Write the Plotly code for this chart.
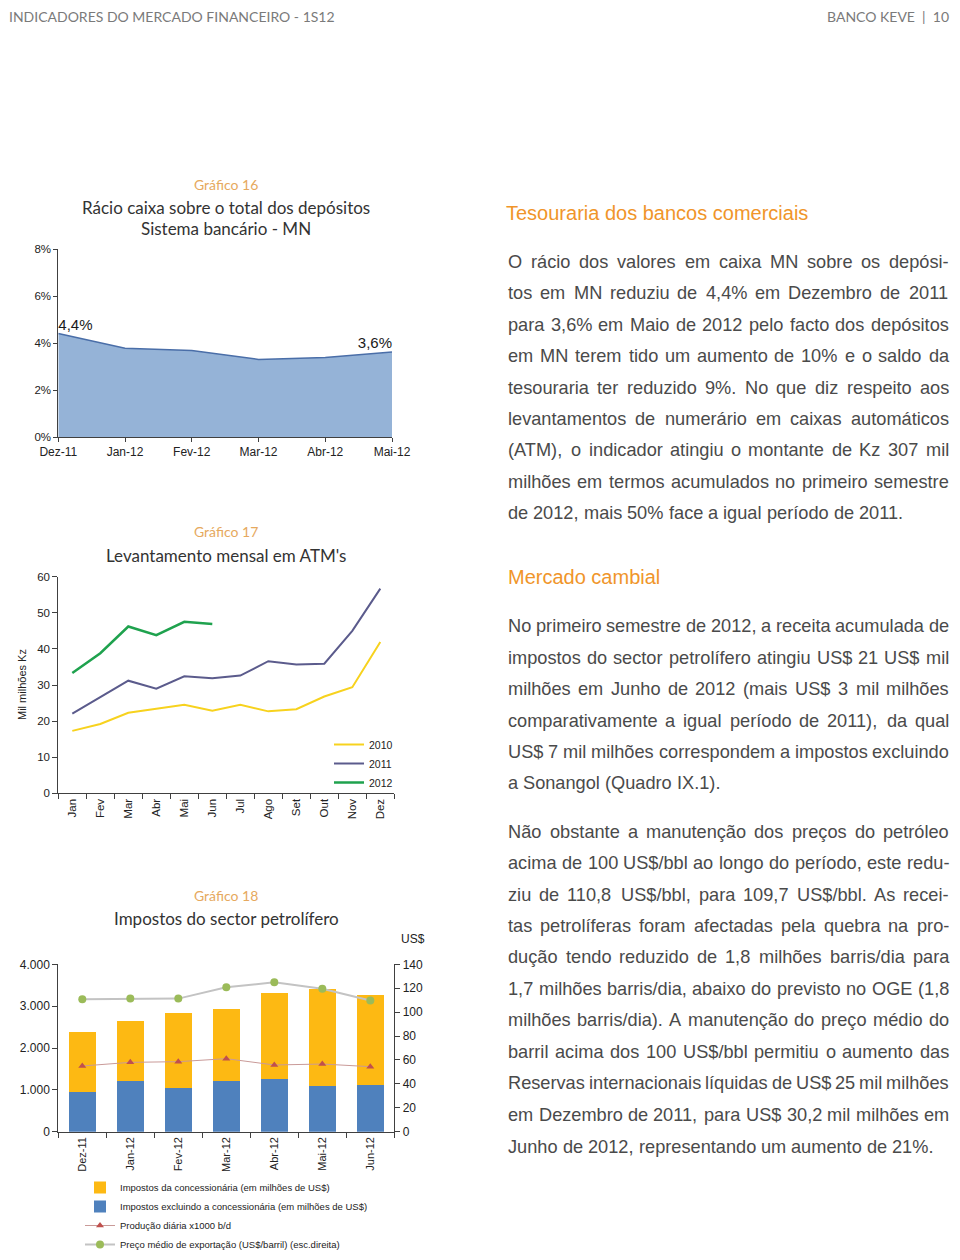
import plotly.graph_objects as go

# The page body adds an 8px margin on every side, so the figure is drawn 16px
# smaller than the window and all reference pixel positions are shifted by 8px.
OFF = 8
W, H = 960 - 2 * OFF, 1260 - 2 * OFF
def px(x): return (x - OFF) / W
def py(y): return 1 - (y - OFF) / H

# ---------------- DATA ----------------
# Gráfico 16
ratio_months = ["Dez-11", "Jan-12", "Fev-12", "Mar-12", "Abr-12", "Mai-12"]
ratio_values = [4.4, 3.78, 3.68, 3.30, 3.38, 3.62]
ratio_labels = ["4,4%", "", "", "", "", "3,6%"]
ratio_ticks = [0, 2, 4, 6, 8]
ratio_ticktext = ["0%", "2%", "4%", "6%", "8%"]

# Gráfico 17
atm_months = ["Jan", "Fev", "Mar", "Abr", "Mai", "Jun", "Jul", "Ago", "Set", "Out", "Nov", "Dez"]
atm_2010 = [17.3, 19.2, 22.3, 23.4, 24.5, 22.9, 24.5, 22.7, 23.3, 26.8, 29.4, 41.9]
atm_2011 = [22.1, 26.6, 31.2, 29.0, 32.4, 31.9, 32.6, 36.6, 35.7, 35.9, 45.0, 56.7]
atm_2012 = [33.3, 38.8, 46.2, 43.8, 47.5, 46.9]

# Gráfico 18
tax_months = ["Dez-11", "Jan-12", "Fev-12", "Mar-12", "Abr-12", "Mai-12", "Jun-12"]
tax_concession = [1435, 1434, 1793, 1713, 2056, 2334, 2151]
tax_other = [940, 1219, 1044, 1219, 1259, 1084, 1108]
production = [1570, 1657, 1673, 1745, 1594, 1617, 1554]
export_price = [110.8, 111.3, 111.3, 120.8, 124.9, 119.6, 109.7]

# ---------------- STYLE ----------------
AX = "#404040"
TICKFONT = dict(family="Liberation Sans", size=11.5, color="#222222")
TITLE_FONT = "Lato"
GRAF_COLOR = "#e6a95e"
HEAD_COLOR = "#f0952a"
BODY_COLOR = "#4a4a4a"

fig = go.Figure()

# Chart 16 - area
fig.add_trace(go.Scatter(
    x=ratio_months, y=ratio_values, mode="lines+text", fill="tozeroy",
    fillcolor="#95b3d7", line=dict(color="#4a6ea8", width=1.5),
    text=ratio_labels,
    textposition=["top right", "top center", "top center", "top center", "top center", "top left"],
    textfont=dict(family="Liberation Sans", size=15, color="#1a1a1a"),
    xaxis="x", yaxis="y", showlegend=False, cliponaxis=False, hoverinfo="skip"))

# Chart 17 - lines
for name, vals, col, wd in [("2010", atm_2010, "#f7d21e", 2),
                            ("2011", atm_2011, "#5b5b8c", 2),
                            ("2012", atm_2012, "#1fa24e", 2.5)]:
    fig.add_trace(go.Scatter(
        x=atm_months[:len(vals)], y=vals, mode="lines", name=name,
        line=dict(color=col, width=wd), xaxis="x2", yaxis="y2", legend="legend"))

# Chart 18 - stacked bars + lines
fig.add_trace(go.Bar(
    x=tax_months, y=tax_other, name="Impostos excluindo a concessionária (em milhões de US$)",
    marker=dict(color="#4f81bd", line=dict(width=0)), width=0.57,
    xaxis="x3", yaxis="y3", legend="legend2", legendrank=2))
fig.add_trace(go.Bar(
    x=tax_months, y=tax_concession, name="Impostos da concessionária (em milhões de US$)",
    marker=dict(color="#fdb913", line=dict(width=0)), width=0.57,
    xaxis="x3", yaxis="y3", legend="legend2", legendrank=1))
fig.add_trace(go.Scatter(
    x=tax_months, y=production, mode="lines+markers", name="Produção diária x1000 b/d",
    line=dict(color="#c99a98", width=1),
    marker=dict(symbol="triangle-up", size=7, color="#c0504d"),
    xaxis="x3", yaxis="y3", legend="legend2", legendrank=3))
fig.add_trace(go.Scatter(
    x=tax_months, y=export_price, mode="lines+markers",
    name="Preço médio de exportação (US$/barril) (esc.direita)",
    line=dict(color="#c3c3c3", width=2),
    marker=dict(symbol="circle", size=8, color="#9bbb59"),
    xaxis="x3", yaxis="y4", legend="legend2", legendrank=4))

axis_common = dict(showline=True, linecolor=AX, linewidth=1, ticks="outside",
                   tickcolor=AX, ticklen=4, showgrid=False, zeroline=False,
                   tickfont=TICKFONT, fixedrange=True, automargin=False)

annotations = []
def ann(x, y, text, size, color, family="Liberation Sans", xanchor="center", angle=0):
    annotations.append(dict(x=px(x), y=py(y), xref="paper", yref="paper", text=text,
                            showarrow=False, xanchor=xanchor, yanchor="middle",
                            borderpad=0, textangle=angle,
                            font=dict(family=family, size=size, color=color)))

# Header
ann(8, 17, "INDICADORES DO MERCADO FINANCEIRO - 1S12", 14, "#7a7a7a", TITLE_FONT, "left")
ann(950, 17, "BANCO KEVE  |  10", 14, "#7a7a7a", TITLE_FONT, "right")

# Chart titles
ann(226, 184, "Gráfico 16", 14, GRAF_COLOR, TITLE_FONT)
ann(226, 207, "Rácio caixa sobre o total dos depósitos", 17, "#333333", TITLE_FONT)
ann(226, 228, "Sistema bancário - MN", 17, "#333333", TITLE_FONT)
ann(226, 531, "Gráfico 17", 14, GRAF_COLOR, TITLE_FONT)
ann(226, 555, "Levantamento mensal em ATM's", 17, "#333333", TITLE_FONT)
ann(226, 895, "Gráfico 18", 14, GRAF_COLOR, TITLE_FONT)
ann(226, 918, "Impostos do sector petrolífero", 17, "#333333", TITLE_FONT)
ann(22, 685, "Mil milhões Kz", 11, "#222222", angle=-90)
ann(413, 939, "US$", 12, "#222222")

# ---------------- BODY TEXT (justified) ----------------
AW = {' ': 278, 'a': 556, 'b': 556, 'c': 500, 'd': 556, 'e': 556, 'f': 278, 'g': 556,
      'h': 556, 'i': 222, 'j': 222, 'k': 500, 'l': 222, 'm': 833, 'n': 556, 'o': 556,
      'p': 556, 'q': 556, 'r': 333, 's': 500, 't': 278, 'u': 556, 'v': 500, 'w': 722,
      'x': 500, 'y': 500, 'z': 500,
      'á': 556, 'ã': 556, 'â': 556, 'é': 556, 'ê': 556, 'í': 278, 'ó': 556, 'ô': 556,
      'õ': 556, 'ú': 556, 'ç': 500,
      'A': 667, 'B': 667, 'C': 722, 'D': 722, 'E': 667, 'F': 611, 'G': 778, 'H': 722,
      'I': 278, 'J': 500, 'K': 667, 'L': 556, 'M': 833, 'N': 722, 'O': 778, 'P': 667,
      'Q': 778, 'R': 722, 'S': 667, 'T': 611, 'U': 722, 'V': 667, 'W': 944, 'X': 667,
      'Y': 667, 'Z': 611,
      ',': 278, '.': 278, '-': 333, '%': 889, '(': 333, ')': 333, '/': 278, '$': 556}
def tw(s, size):
    return sum(AW.get(ch, 556) for ch in s) / 1000 * size

BODY_FS = 18.2
L, R = 507, 948

para1 = ["O rácio dos valores em caixa MN sobre os depósi-",
         "tos em MN reduziu de 4,4% em Dezembro de 2011",
         "para 3,6% em Maio de 2012 pelo facto dos depósitos",
         "em MN terem tido um aumento de 10% e o saldo da",
         "tesouraria ter reduzido 9%. No que diz respeito aos",
         "levantamentos de numerário em caixas automáticos",
         "(ATM), o indicador atingiu o montante de Kz 307 mil",
         "milhões em termos acumulados no primeiro semestre",
         "de 2012, mais 50% face a igual período de 2011."]
para1_y = [261.5, 293, 324.5, 356, 387.5, 419, 450.5, 482, 513.5]

para2 = ["No primeiro semestre de 2012, a receita acumulada de",
         "impostos do sector petrolífero atingiu US$ 21 US$ mil",
         "milhões em Junho de 2012 (mais US$ 3 mil milhões",
         "comparativamente a igual período de 2011), da qual",
         "US$ 7 mil milhões correspondem a impostos excluindo",
         "a Sonangol (Quadro IX.1)."]
para2_y = [626, 657.7, 689, 720.5, 751.5, 783]

para3 = ["Não obstante a manutenção dos preços do petróleo",
         "acima de 100 US$/bbl ao longo do período, este redu-",
         "ziu de 110,8 US$/bbl, para 109,7 US$/bbl. As recei-",
         "tas petrolíferas foram afectadas pela quebra na pro-",
         "dução tendo reduzido de 1,8 milhões barris/dia para",
         "1,7 milhões barris/dia, abaixo do previsto no OGE (1,8",
         "milhões barris/dia). A manutenção do preço médio do",
         "barril acima dos 100 US$/bbl permitiu o aumento das",
         "Reservas internacionais líquidas de US$ 25 mil milhões",
         "em Dezembro de 2011, para US$ 30,2 mil milhões em",
         "Junho de 2012, representando um aumento de 21%."]
para3_y = [831.7, 863.3, 894.7, 926, 957.5, 989, 1020.3, 1051.8, 1083.3, 1115, 1146.5]

def place_paragraph(lines, ys):
    for i, (line, y) in enumerate(zip(lines, ys)):
        last = (i == len(lines) - 1)
        words = line.split(" ")
        widths = [tw(w, BODY_FS) for w in words]
        if not last and len(words) > 1:
            gap = (R - L - sum(widths)) / (len(words) - 1)
        else:
            gap = AW[' '] / 1000 * BODY_FS
        x = L
        for w, wd in zip(words, widths):
            ann(x, y, w, BODY_FS, BODY_COLOR, "Liberation Sans", "left")
            x += wd + gap

ann(505, 213, "Tesouraria dos bancos comerciais", 20, HEAD_COLOR, "Liberation Sans", "left")
place_paragraph(para1, para1_y)
ann(507, 577, "Mercado cambial", 20, HEAD_COLOR, "Liberation Sans", "left")
place_paragraph(para2, para2_y)
place_paragraph(para3, para3_y)

fig.update_layout(
    width=W, height=H, margin=dict(l=0, r=0, t=0, b=0, pad=0, autoexpand=False),
    paper_bgcolor="white", plot_bgcolor="rgba(0,0,0,0)",
    separators=",.", barmode="stack", bargap=0.43,
    font=dict(family="Liberation Sans", color="#222222"),
    xaxis=dict(axis_common, domain=[px(58.3), px(392)], anchor="y", type="category",
               range=[0, 5], tickfont=dict(TICKFONT, size=12)),
    yaxis=dict(axis_common, domain=[py(437), py(249)], anchor="x", range=[0, 8],
               tickvals=ratio_ticks, ticktext=ratio_ticktext),
    xaxis2=dict(axis_common, domain=[px(58.3), px(394.3)], anchor="y2", type="category",
                range=[-0.5, 11.5], tickson="boundaries", ticklen=5, tickangle=-90),
    yaxis2=dict(axis_common, domain=[py(793.3), py(576.7)], anchor="x2", range=[0, 60],
                dtick=10, ticklen=5),
    xaxis3=dict(axis_common, domain=[px(58.3), px(394.3)], anchor="y3", type="category",
                range=[-0.5, 6.5], tickson="boundaries", ticklen=5, tickangle=-90,
                tickfont=dict(TICKFONT, size=11)),
    yaxis3=dict(axis_common, domain=[py(1131.7), py(964.3)], anchor="x3", range=[0, 4000],
                dtick=1000, tickformat=",.0f", ticklen=5, tickfont=dict(TICKFONT, size=12)),
    yaxis4=dict(axis_common, domain=[py(1131.7), py(964.3)], anchor="x3", overlaying="y3",
                side="right", range=[0, 140], dtick=20, ticklen=5,
                tickfont=dict(TICKFONT, size=12)),
    legend=dict(x=px(329), y=py(730), xanchor="left", yanchor="top",
                bgcolor="rgba(0,0,0,0)", font=dict(family="Liberation Sans", size=10.5, color="#222"),
                tracegroupgap=0),
    legend2=dict(x=px(80), y=py(1173), xanchor="left", yanchor="top",
                 bgcolor="rgba(0,0,0,0)", font=dict(family="Liberation Sans", size=9.5, color="#222"),
                 tracegroupgap=0, traceorder="normal"),
    annotations=annotations,
)

fig.write_html("out.html")
